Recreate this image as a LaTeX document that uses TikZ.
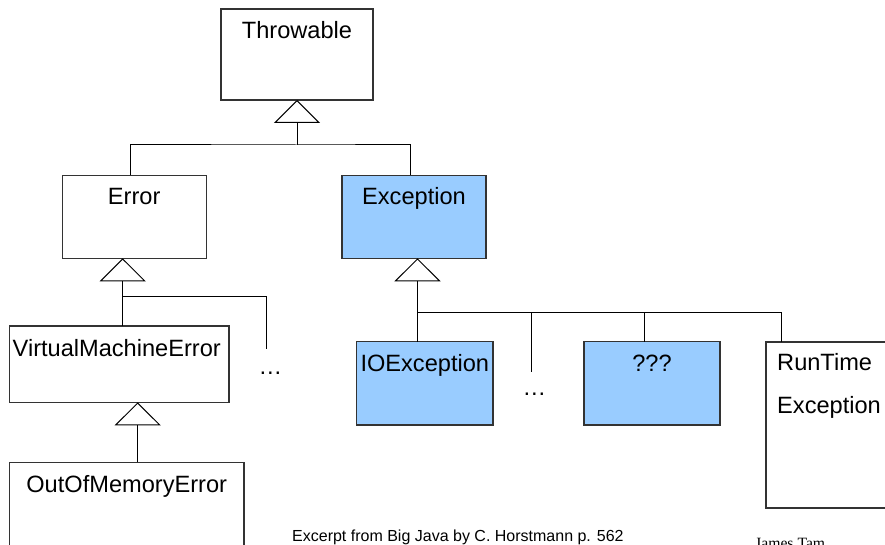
\documentclass[tikz,border=0pt]{standalone}
\usepackage{fontspec}
\setmainfont{Liberation Sans}
\newfontfamily\serifname{Liberation Serif}
\usetikzlibrary{arrows.meta}
\definecolor{boxblue}{HTML}{99CCFF}
\definecolor{edge}{HTML}{333333}
\begin{document}
\begin{tikzpicture}[x=1pt,y=-1pt,
  box/.style={draw=edge,line width=1.2pt,fill=white,inner sep=0pt,outer sep=0pt},
  bluebox/.style={box,fill=boxblue},
  lbl/.style={inner sep=0pt,anchor=base,font=\fontsize{23.6}{28}\selectfont},
  lblw/.style={lbl,anchor=base west},
  conn/.style={draw=black,line width=1pt},
  inh/.style={conn,-{Triangle[open,length=23pt,width=46pt,fill=white]}}]
\useasboundingbox (0,0) rectangle (885,545);
\fill[white] (0,0) rectangle (885,545);
% boxes
\node[box,minimum width=152pt,minimum height=91pt] (thr) at (297,54.5) {};
\node[box,minimum width=144pt,minimum height=83pt] (err) at (134.2,216.8) {};
\node[bluebox,minimum width=144pt,minimum height=83pt] (exc) at (414,216.8) {};
\node[box,minimum width=219.7pt,minimum height=76.3pt] (vme) at (119.2,364.2) {};
\node[box,minimum width=234.7pt,minimum height=110pt] (oom) at (126.7,517.3) {};
\node[bluebox,minimum width=136.3pt,minimum height=83.3pt] (ioe) at (424.8,383.3) {};
\node[bluebox,minimum width=136pt,minimum height=83.3pt] (qqq) at (652,383.3) {};
\node[box,minimum width=140pt,minimum height=166pt] (rte) at (836,425) {};
% labels
\node[lbl] (thrt) at (297,38.3) {Throwable};
\node[lbl] (errt) at (134.2,205) {Error};
\node[lbl] (exct) at (414,205) {Exception};
\node[lblw] (vmet) at (12.5,356) {VirtualMachineError};
\node[lbl] (oomt) at (126.7,492) {OutOfMemoryError};
\node[lbl] (ioet) at (424.8,371.7) {IOException};
\node[lbl] (qqqt) at (652,371.7) {???};
\node[lblw] (rtet1) at (777,370) {RunTime};
\node[lblw] (rtet2) at (777,413) {Exception};
\node[lbl] (dots1) at (270.5,374) {…};
\node[lbl] (dots2) at (534.5,395) {…};
% junctions
\coordinate (j1) at (297,145);
\coordinate (j2) at (122.7,296);
\coordinate (j3) at (417.5,312);
\coordinate (e1) at (266.7,349);
\coordinate (e2) at (531,372);
% Throwable subtree
\draw[inh] (j1) -- (thr.south);
\draw[conn] (err.north -| 130,0) |- (j1) -| (exc.north -| 410,0);
% Error subtree
\draw[inh] (j2) -- (err.south -| j2);
\draw[conn] (vme.north -| j2) |- (e1 |- j2) -- (e1);
\draw[inh] (oom.north -| 137.7,0) -- (vme.south -| 137.7,0);
% Exception subtree
\draw[inh] (j3) -- (exc.south -| j3);
\draw[conn] (ioe.north -| j3) -- (j3) -- (j3 -| 781,0) -- (rte.north -| 781,0);
\draw[conn] (j3 -| e2) -- (e2);
\draw[conn] (j3 -| 644,0) -- (qqq.north -| 644,0);
% footer
\node[inner sep=0pt,anchor=base west,font=\fontsize{16}{19}\selectfont] (src) at (292,541) {Excerpt from Big Java by C. Horstmann p. 562};
\node[inner sep=0pt,anchor=base west,font=\serifname\fontsize{15.7}{19}\selectfont] (auth) at (755,548.5) {James Tam};
\end{tikzpicture}
\end{document}
